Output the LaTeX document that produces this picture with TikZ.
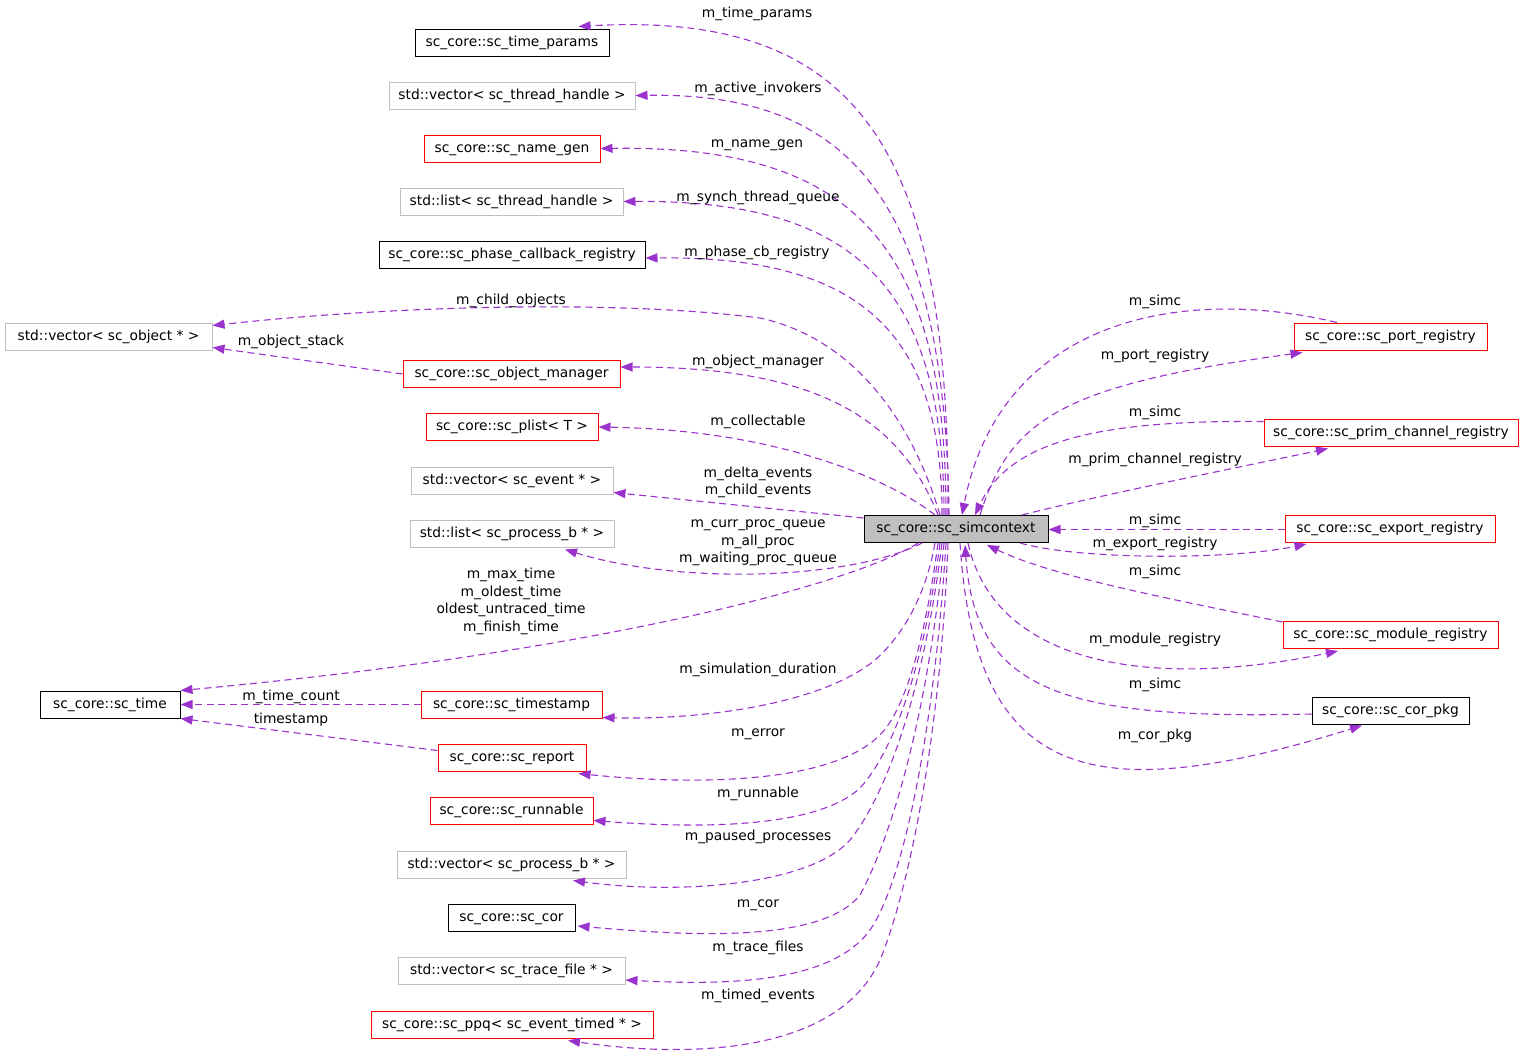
\documentclass[tikz,border=0pt]{standalone}
\usepackage{fontspec}
\setmainfont{DejaVu Sans}
\usetikzlibrary{arrows.meta,calc}
\definecolor{edgec}{HTML}{9A32CD}
\definecolor{boxgray}{HTML}{BFBFBF}
\definecolor{boxred}{HTML}{FF0000}
\newcommand\lblfont{\fontsize{13.8}{17.5}\selectfont}
\begin{document}
\begin{tikzpicture}[x=1pt,y=-1pt,
  box/.style={draw, line width=1pt, minimum height=27pt, inner sep=0pt, font=\lblfont, text height=10pt, text depth=3pt},
  gbox/.style={box, draw=boxgray},
  rbox/.style={box, draw=boxred},
  kbox/.style={box, draw=black},
  lbl/.style={font=\lblfont, inner sep=0pt, text height=10pt, text depth=3pt},
  mlbl/.style={font=\lblfont, inner sep=0pt, align=center},
  edge/.style={draw=edgec, line width=1.1pt, dash pattern=on 7pt off 4.5pt, -{Triangle[length=12pt,width=9pt]}}]
\useasboundingbox[fill=white] (0,0) rectangle (1523,1058);

% nodes
\node[kbox, minimum width=194pt] (tp) at (512,42.5) {sc\_core::sc\_time\_params};
\node[gbox, minimum width=246pt] (ai) at (512,95.5) {std::vector< sc\_thread\_handle >};
\node[rbox, minimum width=176pt] (ng) at (512,148.5) {sc\_core::sc\_name\_gen};
\node[gbox, minimum width=223pt] (st) at (511.5,201.5) {std::list< sc\_thread\_handle >};
\node[kbox, minimum width=266pt] (pc) at (512,255) {sc\_core::sc\_phase\_callback\_registry};
\node[gbox, minimum width=207pt] (vo) at (108.5,336.5) {std::vector< sc\_object * >};
\node[rbox, minimum width=217pt] (om) at (511.5,374) {sc\_core::sc\_object\_manager};
\node[rbox, minimum width=172pt] (pl) at (512,427) {sc\_core::sc\_plist< T >};
\node[gbox, minimum width=202pt] (ve) at (512,480.5) {std::vector< sc\_event * >};
\node[gbox, minimum width=204pt] (lp) at (512,533.5) {std::list< sc\_process\_b * >};
\node[kbox, minimum width=140pt] (ti) at (110,704.5) {sc\_core::sc\_time};
\node[rbox, minimum width=181pt] (ts) at (511.5,704.5) {sc\_core::sc\_timestamp};
\node[rbox, minimum width=148pt] (re) at (512,757.5) {sc\_core::sc\_report};
\node[rbox, minimum width=163pt] (ru) at (511.5,810.5) {sc\_core::sc\_runnable};
\node[gbox, minimum width=229pt] (vp) at (511.5,864.5) {std::vector< sc\_process\_b * >};
\node[kbox, minimum width=127pt] (co) at (511.5,918) {sc\_core::sc\_cor};
\node[gbox, minimum width=227pt] (vt) at (511.5,971) {std::vector< sc\_trace\_file * >};
\node[rbox, minimum width=282pt] (pq) at (512,1024.5) {sc\_core::sc\_ppq< sc\_event\_timed * >};
\node[kbox, fill=boxgray, minimum width=184pt] (sim) at (956,529) {sc\_core::sc\_simcontext};
\node[rbox, minimum width=193pt] (pr) at (1390.5,336.5) {sc\_core::sc\_port\_registry};
\node[rbox, minimum width=254pt] (pcr) at (1391,432.5) {sc\_core::sc\_prim\_channel\_registry};
\node[rbox, minimum width=210pt] (er) at (1390,529) {sc\_core::sc\_export\_registry};
\node[rbox, minimum width=215pt] (mr) at (1390.5,635) {sc\_core::sc\_module\_registry};
\node[kbox, minimum width=157pt] (cp) at (1390.5,710.5) {sc\_core::sc\_cor\_pkg};

% left / top group
\draw[edge] ($(sim.north)+(-8,0)$) .. controls (950,150) and (860,10) .. ($(tp.north east)+(-31,-2)$);
\draw[edge] ($(sim.north)+(-7,0)$) .. controls (945,200) and (850,92) .. (ai.east);
\draw[edge] ($(sim.north)+(-10,0)$) .. controls (946,240) and (850,145) .. (ng.east);
\draw[edge] ($(sim.north)+(-12,0)$) .. controls (944,281) and (850,200) .. (st.east);
\draw[edge] ($(sim.north)+(-14,0)$) .. controls (942,323) and (850,256) .. ($(pc.east)+(0,3)$);
\draw[edge] ($(sim.north)+(-16,0)$) .. controls (915,430) and (860,340) .. (760,318) .. controls (620,300) and (400,305) .. ($(vo.east)+(0,-11)$);
\draw[edge] (om.west) -- ($(vo.east)+(0,11)$);
\draw[edge] ($(sim.north)+(-18,0)$) .. controls (900,420) and (820,367) .. ($(om.east)+(0,-7)$);
\draw[edge] ($(sim.north)+(-21,0)$) .. controls (890,480) and (780,430) .. (pl.east);
\draw[edge] ($(sim.west)+(0,-11)$) -- ($(ve.east)+(0,12)$);
\draw[edge] ($(sim.south)+(-34,0)$) .. controls (850,580) and (680,585) .. ($(lp.south)+(53,2)$);
\draw[edge] ($(sim.south)+(-38,0)$) .. controls (860,580) and (620,650) .. (ti.north east);
\draw[edge] (ts.west) -- (ti.east);
\draw[edge] ($(re.west)+(0,-7)$) -- (ti.south east);
\draw[edge] ($(sim.south)+(-21,0)$) .. controls (925,600) and (900,638) .. (875,660) .. controls (820,705) and (700,720) .. ($(ts.south east)+(0,-1)$);
\draw[edge] ($(sim.south)+(-18,0)$) .. controls (925,640) and (905,710) .. (880,735) .. controls (830,785) and (690,785) .. ($(re.south east)+(-8,2)$);
\draw[edge] ($(sim.south)+(-16,0)$) .. controls (925,660) and (895,750) .. (860,788) .. controls (815,830) and (690,828) .. ($(ru.east)+(0,10)$);
\draw[edge] ($(sim.south)+(-14,0)$) .. controls (925,680) and (890,790) .. (850,840) .. controls (810,885) and (680,895) .. ($(vp.south)+(61.5,2)$);
\draw[edge] ($(sim.south)+(-12,0)$) .. controls (930,700) and (895,830) .. (860,895) .. controls (820,945) and (680,935) .. ($(co.east)+(2,8)$);
\draw[edge] ($(sim.south)+(-10,0)$) .. controls (935,720) and (905,880) .. (870,930) .. controls (830,985) and (720,985) .. ($(vt.east)+(0,9)$);
\draw[edge] ($(sim.south)+(-8,0)$) .. controls (940,750) and (905,900) .. (880,960) .. controls (840,1050) and (700,1060) .. ($(pq.south)+(56,2)$);

% right group
\draw[edge] ($(pr.north)+(-53.5,0)$) .. controls (1180,285) and (1000,320) .. ($(sim.north)+(6,0)$);
\draw[edge] ($(sim.north)+(24,0)$) .. controls (1010,420) and (1060,385) .. ($(pr.south west)+(9,2)$);
\draw[edge] ($(pcr.west)+(0,-11)$) .. controls (1100,420) and (1010,440) .. ($(sim.north)+(19,0)$);
\draw[edge] ($(sim.north)+(66,0)$) .. controls (1100,495) and (1250,465) .. ($(pcr.south)+(-63,2)$);
\draw[edge] ($(er.west)+(0,0.5)$) -- ($(sim.east)+(0,0.5)$);
\draw[edge] ($(sim.south)+(64,0)$) .. controls (1080,560) and (1230,560) .. ($(er.south west)+(22,1)$);
\draw[edge] ($(mr.north west)+(0,1)$) .. controls (1150,595) and (1050,575) .. ($(sim.south)+(31,2)$);
\draw[edge] ($(sim.south)+(12,0)$) .. controls (995,665) and (1150,690) .. ($(mr.south)+(-52.5,2)$);
\draw[edge] ($(cp.west)+(0,3.5)$) .. controls (1060,720) and (975,690) .. ($(sim.south)+(9,2)$);
\draw[edge] ($(sim.south)+(4,0)$) .. controls (975,780) and (1090,810) .. ($(cp.south)+(-28.5,1)$);

% labels
\node[lbl] (l1) at (757,13.5) {m\_time\_params};
\node[lbl] (l2) at (758,88.5) {m\_active\_invokers};
\node[lbl] (l3) at (757,143.5) {m\_name\_gen};
\node[lbl] (l4) at (758,197.5) {m\_synch\_thread\_queue};
\node[lbl] (l5) at (757,252.5) {m\_phase\_cb\_registry};
\node[lbl] (l6) at (511,300.5) {m\_child\_objects};
\node[lbl] (l7) at (291,341.5) {m\_object\_stack};
\node[lbl] (l8) at (758,361.5) {m\_object\_manager};
\node[lbl] (l9) at (758,421.5) {m\_collectable};
\node[mlbl] (l10) at (758,482.5) {m\_delta\_events\\m\_child\_events};
\node[mlbl] (l11) at (758,543) {m\_curr\_proc\_queue\\m\_all\_proc\\m\_waiting\_proc\_queue};
\node[mlbl] (l12) at (511,601.5) {m\_max\_time\\m\_oldest\_time\\oldest\_untraced\_time\\m\_finish\_time};
\node[lbl] (l13) at (291,696.5) {m\_time\_count};
\node[lbl] (l14) at (291,719.5) {timestamp};
\node[lbl] (l15) at (758,669.5) {m\_simulation\_duration};
\node[lbl] (l16) at (758,732.5) {m\_error};
\node[lbl] (l17) at (758,793.5) {m\_runnable};
\node[lbl] (l18) at (758,836.5) {m\_paused\_processes};
\node[lbl] (l19) at (758,903.5) {m\_cor};
\node[lbl] (l20) at (758,947.5) {m\_trace\_files};
\node[lbl] (l21) at (758,995.5) {m\_timed\_events};
\node[lbl] (r1) at (1155,301.5) {m\_simc};
\node[lbl] (r2) at (1155,355.5) {m\_port\_registry};
\node[lbl] (r3) at (1155,412.5) {m\_simc};
\node[lbl] (r4) at (1155,459.5) {m\_prim\_channel\_registry};
\node[lbl] (r5) at (1155,520.5) {m\_simc};
\node[lbl] (r6) at (1155,543.5) {m\_export\_registry};
\node[lbl] (r7) at (1155,571.5) {m\_simc};
\node[lbl] (r8) at (1155,639.5) {m\_module\_registry};
\node[lbl] (r9) at (1155,684.5) {m\_simc};
\node[lbl] (r10) at (1155,735.5) {m\_cor\_pkg};
\end{tikzpicture}
\end{document}
